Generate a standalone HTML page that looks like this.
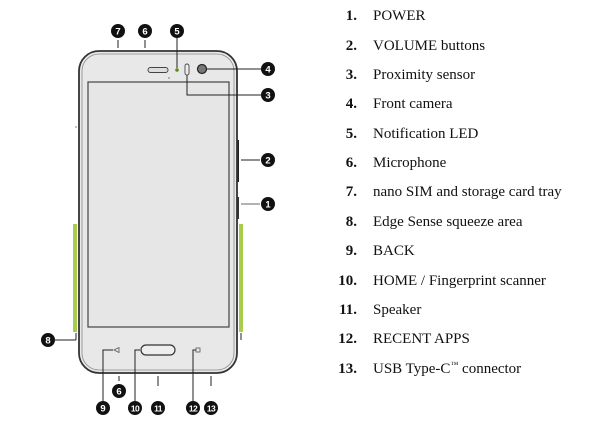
<!DOCTYPE html>
<html><head><meta charset="utf-8"><style>
html,body{margin:0;padding:0;background:#fff;}
body{width:612px;height:432px;position:relative;overflow:hidden;font-family:"Liberation Serif",serif;}
.r{position:absolute;left:0;width:600px;height:20px;font-size:15px;color:#111;line-height:20px;}
.r b{position:absolute;right:243px;text-align:right;font-weight:bold;}
.r span{position:absolute;left:373px;white-space:nowrap;}
svg{position:absolute;left:0;top:0;}
</style></head><body>
<svg width="612" height="432" viewBox="0 0 612 432">
<rect x="73" y="224" width="4" height="108" fill="#a8cd4c"/>
<rect x="239" y="224" width="4" height="108" fill="#a8cd4c"/>
<rect x="236" y="140" width="3" height="42" fill="#222"/>
<rect x="236" y="197" width="3" height="22" fill="#333"/>
<rect x="79" y="51" width="158" height="322" rx="20" fill="#e8e8e8" stroke="#333" stroke-width="1.8"/>
<rect x="82" y="54" width="152" height="316" rx="17" fill="none" stroke="#888" stroke-width="0.8"/>
<rect x="88" y="82" width="141" height="245" fill="#e6e6e6" stroke="#444" stroke-width="1.2"/>
<rect x="148" y="67.5" width="20" height="5" rx="2.5" fill="#ddd" stroke="#444" stroke-width="1"/>
<circle cx="177" cy="70" r="1.8" fill="#5a8a1a"/>
<rect x="185" y="64" width="4" height="11" rx="2" fill="#eee" stroke="#444" stroke-width="0.9"/>
<circle cx="202" cy="69" r="4.5" fill="#777" stroke="#222" stroke-width="1.2"/>
<circle cx="169" cy="78" r="0.6" fill="#333"/>
<circle cx="76" cy="127" r="0.6" fill="#333"/>
<rect x="141" y="345" width="34" height="10" rx="5" fill="#eee" stroke="#333" stroke-width="1.2"/>
<path d="M114 350 L119 347.5 L119 352.5 Z" fill="none" stroke="#555" stroke-width="0.8"/>
<rect x="196" y="348" width="4" height="4" fill="none" stroke="#555" stroke-width="0.8"/>
<g stroke="#222" stroke-width="1" fill="none">
<line x1="118" y1="40" x2="118" y2="48"/>
<line x1="145" y1="40" x2="145" y2="48"/>
<line x1="177" y1="38" x2="177" y2="68"/>
<line x1="207" y1="69" x2="261" y2="69"/>
<polyline points="187,75 187,95 261,95"/>
<line x1="241" y1="160" x2="260" y2="160"/>
<line x1="241" y1="204" x2="260" y2="204" stroke="#666"/>
<line x1="55" y1="340" x2="76" y2="340"/>
<line x1="76" y1="333" x2="76" y2="340"/>
<line x1="241" y1="333" x2="241" y2="340"/>
<polyline points="113,350 103,350 103,401"/>
<polyline points="140,350 135,350 135,401"/>
<polyline points="196,350 193,350 193,401"/>
<line x1="158" y1="376" x2="158" y2="386"/>
<line x1="211" y1="376" x2="211" y2="386"/>
<line x1="119" y1="376" x2="119" y2="381"/>
</g>
<g fill="#111">
<circle cx="118" cy="31" r="7"/><circle cx="145" cy="31" r="7"/><circle cx="177" cy="31" r="7"/>
<circle cx="268" cy="69" r="7"/><circle cx="268" cy="95" r="7"/><circle cx="268" cy="160" r="7"/>
<circle cx="268" cy="204" r="7"/><circle cx="48" cy="340" r="7"/><circle cx="119" cy="391" r="7"/>
<circle cx="103" cy="408" r="7"/><circle cx="135" cy="408" r="7"/><circle cx="158" cy="408" r="7"/>
<circle cx="193" cy="408" r="7"/><circle cx="211" cy="408" r="7"/>
</g>
<g font-family="Liberation Sans,sans-serif" font-weight="bold" font-size="9.5" fill="#fff" text-anchor="middle">
<text x="118" y="34.4">7</text><text x="145" y="34.4">6</text><text x="177" y="34.4">5</text>
<text x="268" y="72.4">4</text><text x="268" y="98.4">3</text><text x="268" y="163.4">2</text>
<text x="268" y="207.4">1</text><text x="48" y="343.4">8</text><text x="119" y="394.4">6</text>
<text x="103" y="411.4">9</text>
<text x="135" y="411.3" font-size="8.5" letter-spacing="-0.6">10</text>
<text x="158" y="411.3" font-size="8.5" letter-spacing="-0.6">11</text>
<text x="193" y="411.3" font-size="8.5" letter-spacing="-0.6">12</text>
<text x="211" y="411.3" font-size="8.5" letter-spacing="-0.6">13</text>
</g>
</svg>
<div class="r" style="top:6px"><b>1.</b><span>POWER</span></div>
<div class="r" style="top:36px"><b>2.</b><span>VOLUME buttons</span></div>
<div class="r" style="top:65px"><b>3.</b><span>Proximity sensor</span></div>
<div class="r" style="top:94px"><b>4.</b><span>Front camera</span></div>
<div class="r" style="top:124px"><b>5.</b><span>Notification LED</span></div>
<div class="r" style="top:153px"><b>6.</b><span>Microphone</span></div>
<div class="r" style="top:182px"><b>7.</b><span>nano SIM and storage card tray</span></div>
<div class="r" style="top:212px"><b>8.</b><span>Edge Sense squeeze area</span></div>
<div class="r" style="top:241px"><b>9.</b><span>BACK</span></div>
<div class="r" style="top:271px"><b>10.</b><span>HOME / Fingerprint scanner</span></div>
<div class="r" style="top:300px"><b>11.</b><span>Speaker</span></div>
<div class="r" style="top:329px"><b>12.</b><span>RECENT APPS</span></div>
<div class="r" style="top:359px"><b>13.</b><span>USB Type-C<sup style="font-size:8px;line-height:0;vertical-align:6px">™</sup> connector</span></div>
</body></html>
